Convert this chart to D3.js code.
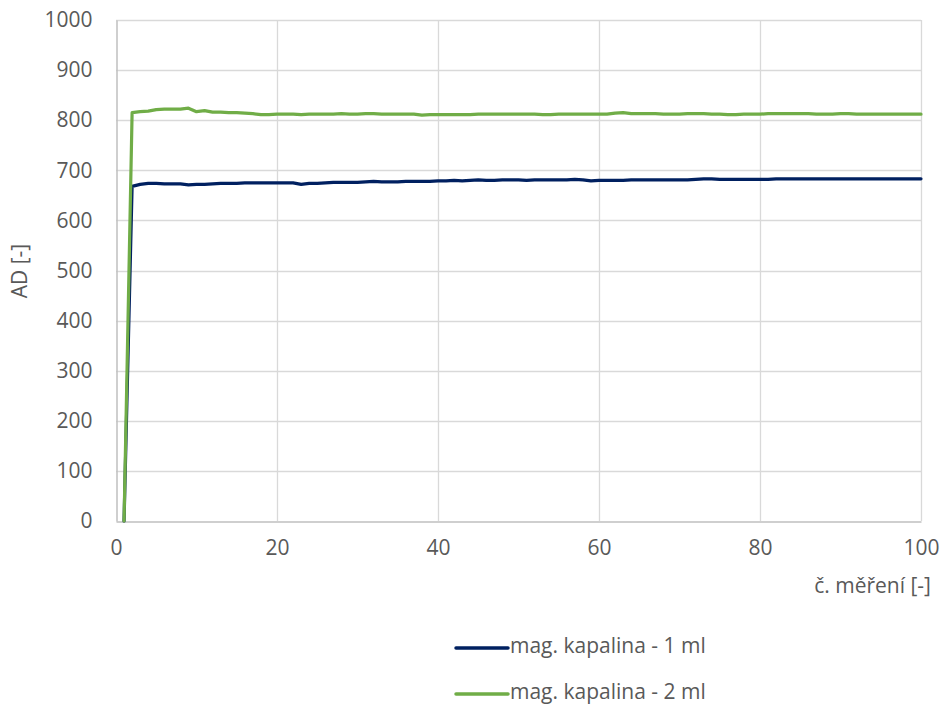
<!DOCTYPE html>
<html>
<head>
<meta charset="utf-8">
<script src="https://cdn.jsdelivr.net/npm/d3@7"></script>
<style>
  html, body { margin: 0; padding: 0; background: #fff; }
  svg { display: block; }
  text { font-family: "Open Sans", "Noto Sans", sans-serif; fill: #595959; }
</style>
</head>
<body>
<svg id="chart" width="941" height="706"></svg>
<script>
// Measurement index 1..100
const measurements = d3.range(1, 101);

// AD values, magnetic liquid 1 ml
const series1ml = [
  0, 668, 672, 674, 674, 673, 673, 673, 671, 672,
  672, 673, 674, 674, 674, 675, 675, 675, 675, 675,
  675, 675, 672, 674, 674, 675, 676, 676, 676, 676,
  677, 678, 677, 677, 677, 678, 678, 678, 678, 679,
  679, 680, 679, 680, 681, 680, 680, 681, 681, 681,
  680, 681, 681, 681, 681, 681, 682, 681, 679, 680,
  680, 680, 680, 681, 681, 681, 681, 681, 681, 681,
  681, 682, 683, 683, 682, 682, 682, 682, 682, 682,
  682, 683, 683, 683, 683, 683, 683, 683, 683, 683,
  683, 683, 683, 683, 683, 683, 683, 683, 683, 683
];

// AD values, magnetic liquid 2 ml
const series2ml = [
  0, 815, 817, 818, 821, 822, 822, 822, 824, 817,
  819, 816, 816, 815, 815, 814, 813, 811, 811, 812,
  812, 812, 811, 812, 812, 812, 812, 813, 812, 812,
  813, 813, 812, 812, 812, 812, 812, 810, 811, 811,
  811, 811, 811, 811, 812, 812, 812, 812, 812, 812,
  812, 812, 811, 811, 812, 812, 812, 812, 812, 812,
  812, 814, 815, 813, 813, 813, 813, 812, 812, 812,
  813, 813, 813, 812, 812, 811, 811, 812, 812, 812,
  813, 813, 813, 813, 813, 813, 812, 812, 812, 813,
  813, 812, 812, 812, 812, 812, 812, 812, 812, 812
];

const xTicks = [0, 20, 40, 60, 80, 100];
const yTicks = [0, 100, 200, 300, 400, 500, 600, 700, 800, 900, 1000];

const seriesNames = ["mag. kapalina - 1 ml", "mag. kapalina - 2 ml"];
const seriesColors = ["#002060", "#70AD47"];
const seriesData = [series1ml, series2ml];

const xLabel = "č. měření [-]";
const yLabel = "AD [-]";

const svg = d3.select("#chart");
const plot = { left: 116, right: 921, top: 20, bottom: 521 };
const fontSize = 21;

const x = d3.scaleLinear().domain([0, 100]).range([plot.left, plot.right]);
const y = d3.scaleLinear().domain([0, 1000]).range([plot.bottom, plot.top]);

// Gridlines
const grid = svg.append("g");
grid.selectAll("line.h").data(yTicks.filter(d => d > 0)).join("line")
  .attr("x1", plot.left).attr("x2", plot.right)
  .attr("y1", d => Math.round(y(d)) + 0.5).attr("y2", d => Math.round(y(d)) + 0.5)
  .attr("stroke", "#D9D9D9").attr("stroke-width", 1.3);
grid.selectAll("line.v").data(xTicks.filter(d => d > 0)).join("line")
  .attr("y1", plot.top).attr("y2", plot.bottom)
  .attr("x1", d => Math.round(x(d)) + 0.5).attr("x2", d => Math.round(x(d)) + 0.5)
  .attr("stroke", "#D9D9D9").attr("stroke-width", 1.3);

// Axes
const yAxis = d3.axisLeft(y).tickValues(yTicks).tickFormat(d3.format("d")).tickSize(0).tickPadding(24);
const xAxis = d3.axisBottom(x).tickValues(xTicks).tickFormat(d3.format("d")).tickSize(0).tickPadding(19);

const gy = svg.append("g").attr("transform", `translate(${plot.left + 0.5},0)`).call(yAxis);
const gx = svg.append("g").attr("transform", `translate(0,${plot.bottom + 0.5})`).call(xAxis);
[gx, gy].forEach(g => {
  g.select(".domain").attr("stroke", "#BFBFBF").attr("stroke-width", 1.5);
  g.selectAll("text").attr("font-size", fontSize).attr("fill", "#595959")
    .attr("font-family", "'Open Sans', 'Noto Sans', sans-serif");
});

// Axis titles
svg.append("text").attr("x", 931).attr("y", 593).attr("text-anchor", "end")
  .attr("font-size", fontSize).text(xLabel);
svg.append("text").attr("transform", "translate(27,271) rotate(-90)")
  .attr("text-anchor", "middle").attr("font-size", fontSize).text(yLabel);

// Lines
const line = d3.line().x((d, i) => x(measurements[i])).y(d => y(d));
seriesData.forEach((s, k) => {
  svg.append("path").datum(s).attr("d", line)
    .attr("fill", "none").attr("stroke", seriesColors[k])
    .attr("stroke-width", 3.2).attr("stroke-linejoin", "round").attr("stroke-linecap", "round");
});

// Legend
const legend = svg.append("g");
seriesNames.forEach((name, k) => {
  const ly = 648 + k * 46;
  legend.append("line").attr("x1", 456).attr("x2", 508).attr("y1", ly).attr("y2", ly)
    .attr("stroke", seriesColors[k]).attr("stroke-width", 3.5).attr("stroke-linecap", "round");
  legend.append("text").attr("x", 510).attr("y", ly + 5).attr("font-size", fontSize).text(name);
});
</script>
</body>
</html>
